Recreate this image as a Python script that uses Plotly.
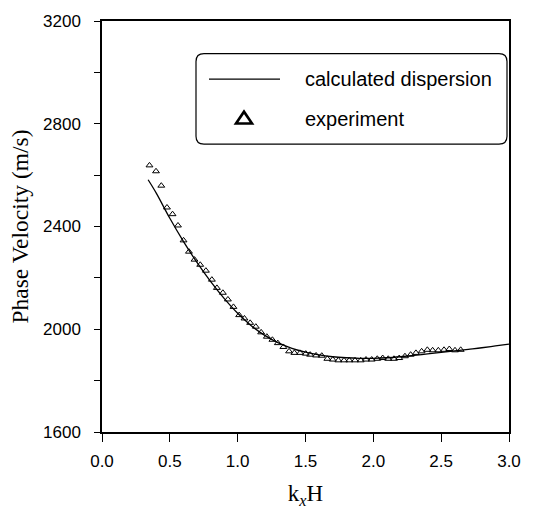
import plotly.graph_objects as go

# Calculated dispersion curve (k_x H, phase velocity in m/s)
kxh_calc = [0.34, 0.4, 0.5, 0.6, 0.7, 0.8, 0.9, 1.0, 1.1, 1.2, 1.3, 1.4, 1.5,
            1.6, 1.7, 1.8, 1.9, 2.0, 2.1, 2.2, 2.3, 2.4, 2.5, 2.6, 2.7, 2.8,
            2.9, 3.0]
vel_calc = [2582, 2530, 2432, 2342, 2260, 2186, 2120, 2062, 2014, 1976, 1947,
            1926, 1911, 1900, 1893, 1889, 1887, 1887, 1889, 1893, 1898, 1904,
            1910, 1916, 1922, 1928, 1935, 1942]

# Measured phase velocities
kxh_exp = [0.350, 0.398, 0.437, 0.479, 0.520, 0.560, 0.601, 0.641, 0.682,
           0.724, 0.766, 0.810, 0.847, 0.891, 0.928, 0.969, 1.011, 1.050,
           1.092, 1.134, 1.173, 1.215, 1.256, 1.296, 1.337, 1.379, 1.418,
           1.460, 1.502, 1.534, 1.578, 1.620, 1.661, 1.701, 1.742, 1.784,
           1.823, 1.865, 1.907, 1.946, 1.988, 2.029, 2.069, 2.110, 2.152,
           2.191, 2.233, 2.275, 2.314, 2.356, 2.398, 2.437, 2.479, 2.521,
           2.560, 2.602, 2.644]
vel_exp = [2638, 2615, 2559, 2474, 2448, 2404, 2346, 2302, 2271, 2251, 2228,
           2193, 2161, 2142, 2116, 2087, 2055, 2042, 2025, 2010, 1988, 1971,
           1959, 1946, 1931, 1914, 1908, 1908, 1905, 1901, 1898, 1897, 1885,
           1882, 1879, 1879, 1879, 1879, 1879, 1882, 1882, 1885, 1888, 1885,
           1885, 1888, 1895, 1901, 1908, 1914, 1920, 1918, 1918, 1920, 1923,
           1918, 1920]

y_ticks = [1600, 1800, 2000, 2200, 2400, 2600, 2800, 3000, 3200]
y_ticktext = ["1600", " ", "2000", " ", "2400", " ", "2800", " ", "3200"]
x_ticks = [0.0, 0.5, 1.0, 1.5, 2.0, 2.5, 3.0]
x_ticktext = ["0.0", "0.5", "1.0", "1.5", "2.0", "2.5", "3.0"]

legend_labels = ["calculated dispersion", "experiment"]

SANS = "Liberation Sans, Arial, sans-serif"
SERIF = "Liberation Serif, Times New Roman, serif"

W, H = 536, 514
ML, MR, MT, MB = 102, 27, 17, 80
PW, PH = W - ML - MR, H - MT - MB


def fx(px):
    return (px - ML) / PW


def fy(py):
    return (H - MB - py) / PH


def rounded_rect(x0, y0, x1, y1, r):
    pts = [
        f"M {fx(x0 + r)} {fy(y0)}",
        f"L {fx(x1 - r)} {fy(y0)}",
        f"Q {fx(x1)} {fy(y0)} {fx(x1)} {fy(y0 + r)}",
        f"L {fx(x1)} {fy(y1 - r)}",
        f"Q {fx(x1)} {fy(y1)} {fx(x1 - r)} {fy(y1)}",
        f"L {fx(x0 + r)} {fy(y1)}",
        f"Q {fx(x0)} {fy(y1)} {fx(x0)} {fy(y1 - r)}",
        f"L {fx(x0)} {fy(y0 + r)}",
        f"Q {fx(x0)} {fy(y0)} {fx(x0 + r)} {fy(y0)}",
        "Z",
    ]
    return " ".join(pts)


fig = go.Figure()
fig.add_trace(go.Scatter(
    x=kxh_calc, y=vel_calc, mode="lines", line_shape="spline",
    line=dict(color="black", width=1.3), name=legend_labels[0],
    showlegend=False,
))
fig.add_trace(go.Scatter(
    x=kxh_exp, y=vel_exp, mode="markers", name=legend_labels[1],
    marker=dict(symbol="triangle-up-open", size=6, color="black",
                line=dict(width=1, color="black")),
    showlegend=False,
))

# Legend box drawn as shapes with text annotations
shapes = [
    dict(type="path", xref="paper", yref="paper",
         path=rounded_rect(196, 50, 507, 142, 8),
         line=dict(color="black", width=1.2), fillcolor="white", layer="above"),
    dict(type="line", xref="paper", yref="paper",
         x0=fx(209), x1=fx(280), y0=fy(76), y1=fy(76),
         line=dict(color="black", width=1.3)),
    dict(type="path", xref="paper", yref="paper",
         path=(f"M {fx(236)} {fy(121)} L {fx(252)} {fy(121)} "
               f"L {fx(244)} {fy(109)} Z"),
         line=dict(color="black", width=2.6)),
]
annotations = [
    dict(xref="paper", yref="paper", x=fx(303), y=fy(76), text=legend_labels[0],
         showarrow=False, xanchor="left", yanchor="middle",
         font=dict(family=SANS, size=20, color="black")),
    dict(xref="paper", yref="paper", x=fx(303), y=fy(116), text=legend_labels[1],
         showarrow=False, xanchor="left", yanchor="middle",
         font=dict(family=SANS, size=20, color="black")),
]

fig.update_layout(
    width=W, height=H,
    margin=dict(l=ML, r=MR, t=MT, b=MB),
    paper_bgcolor="white", plot_bgcolor="white",
    shapes=shapes, annotations=annotations,
    xaxis=dict(
        range=[0, 3], tickvals=x_ticks, ticktext=x_ticktext,
        ticks="outside", ticklen=8, tickwidth=1.3, tickcolor="black",
        showline=True, linecolor="black", linewidth=1.5, mirror=True,
        showgrid=False, zeroline=False, ticklabelstandoff=5,
        tickfont=dict(family=SANS, size=17, color="black"),
        title=dict(text="k<sub><i>x</i></sub>H", standoff=15,
                   font=dict(family=SERIF, size=23, color="black")),
    ),
    yaxis=dict(
        range=[1600, 3200], tickvals=y_ticks, ticktext=y_ticktext,
        ticks="outside", ticklen=6, tickwidth=1.3, tickcolor="black",
        showline=True, linecolor="black", linewidth=1.5, mirror=True,
        showgrid=False, zeroline=False, ticklabelstandoff=10,
        tickfont=dict(family=SANS, size=17, color="black"),
        title=dict(text="Phase Velocity (m/s)", standoff=8,
                   font=dict(family=SERIF, size=23.5, color="black")),
    ),
)

fig.write_html("out.html")
